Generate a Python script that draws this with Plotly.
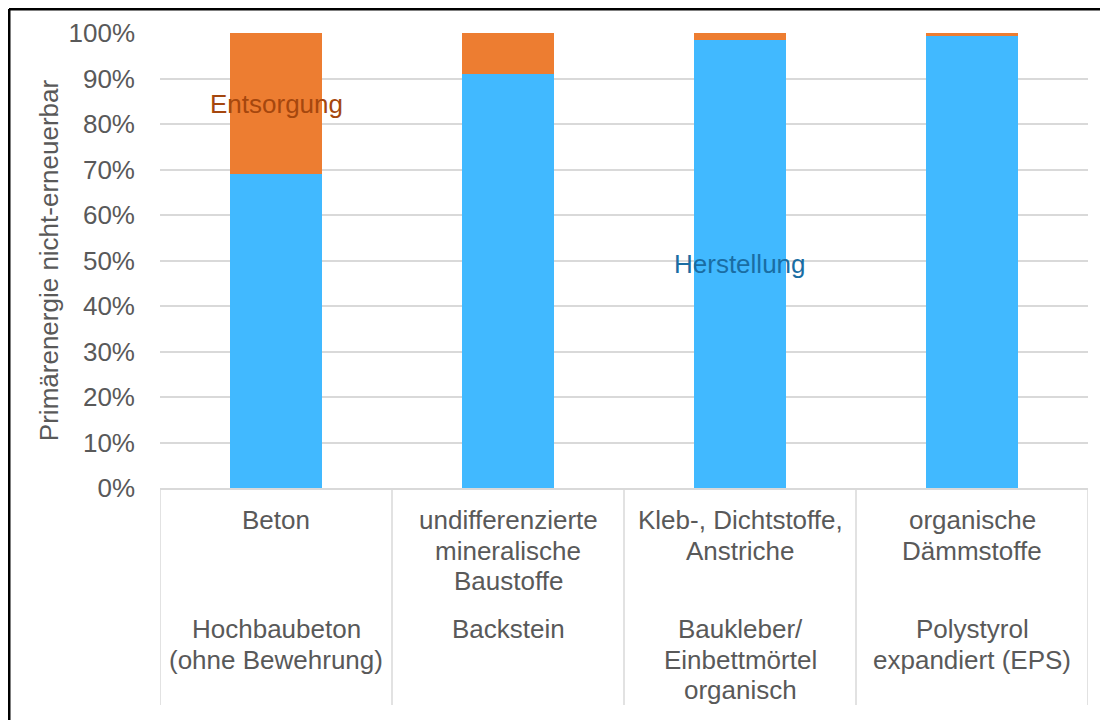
import plotly.graph_objects as go

# =========================
# DATA
# =========================

keys = ["beton", "backstein", "baukleber", "eps"]
herstellung = [0.69, 0.91, 0.985, 0.994]
entsorgung = [0.31, 0.09, 0.015, 0.006]

group_labels = [
    ["Beton"],
    ["undifferenzierte", "mineralische", "Baustoffe"],
    ["Kleb-, Dichtstoffe,", "Anstriche"],
    ["organische", "Dämmstoffe"],
]
product_labels = [
    ["Hochbaubeton", "(ohne Bewehrung)"],
    ["Backstein"],
    ["Baukleber/", "Einbettmörtel", "organisch"],
    ["Polystyrol", "expandiert (EPS)"],
]

y_ticks = [i / 10 for i in range(11)]

BLUE = "#41B9FF"
ORANGE = "#ED7D31"
GREY_TEXT = "#595959"
GRID = "#D9D9D9"
FONT = "Liberation Sans, Arial, sans-serif"

# page is drawn with an 8px body margin, so margins are shifted by that
ML, MR, MT, MB = 152, 28, 25, 240
PW = 1108 - ML - MR
PH = 720 - MT - MB

# =========================
# FIGURE
# =========================

fig = go.Figure()

fig.add_trace(go.Bar(x=keys, y=herstellung, name="Herstellung",
                     marker=dict(color=BLUE, line=dict(width=0)), hoverinfo="skip"))
fig.add_trace(go.Bar(x=keys, y=entsorgung, name="Entsorgung",
                     marker=dict(color=ORANGE, line=dict(width=0)), hoverinfo="skip"))

# data labels (centre of segment)
fig.add_annotation(x=keys[0], y=herstellung[0] + entsorgung[0] / 2, text="Entsorgung",
                   showarrow=False, font=dict(size=26, color="#A5470E", family=FONT))
fig.add_annotation(x=keys[2], y=herstellung[2] / 2, text="Herstellung",
                   showarrow=False, font=dict(size=26, color="#1A6DA3", family=FONT))

# =========================
# CATEGORY LABELS (two rows)
# =========================

line_step = 30.5
for key, lines in zip(keys, group_labels):
    for i, line in enumerate(lines):
        fig.add_annotation(x=key, y=0, yref="paper", text=line, showarrow=False,
                           yanchor="middle", yshift=-(32 + line_step * i),
                           font=dict(size=26, color=GREY_TEXT, family=FONT))
for key, lines in zip(keys, product_labels):
    for i, line in enumerate(lines):
        fig.add_annotation(x=key, y=0, yref="paper", text=line, showarrow=False,
                           yanchor="middle", yshift=-(141 + line_step * i),
                           font=dict(size=26, color=GREY_TEXT, family=FONT))

# separators between categories
for i in range(len(keys) + 1):
    fig.add_shape(type="line", xref="x", yref="paper",
                  x0=i - 0.5, x1=i - 0.5, y0=0, y1=-217 / PH,
                  line=dict(color=GRID, width=1.5))

# outer frame (left + top edge)
fx = (1 - ML) / PW
fy = 1 + (MT - 1) / PH
fig.add_shape(type="line", xref="paper", yref="paper",
              x0=fx, x1=fx, y0=-1, y1=fy,
              line=dict(color="black", width=3))
fig.add_shape(type="line", xref="paper", yref="paper",
              x0=fx, x1=1.5, y0=fy, y1=fy,
              line=dict(color="black", width=3))

# =========================
# AXES
# =========================

fig.update_xaxes(
    type="category",
    range=[-0.5, len(keys) - 0.5],
    showticklabels=False,
    showgrid=False,
    showline=True,
    linecolor=GRID,
    linewidth=1.5,
    ticks="",
)

fig.update_yaxes(
    range=[0, 1],
    tickvals=y_ticks,
    tickformat=".0%",
    showgrid=True,
    gridcolor=GRID,
    gridwidth=1.5,
    zeroline=False,
    ticks="",
    ticklabelstandoff=24,
    tickfont=dict(size=26, color=GREY_TEXT, family=FONT),
    title=dict(text="Primärenergie nicht-erneuerbar", standoff=2,
               font=dict(size=26, color=GREY_TEXT, family=FONT)),
)

# =========================
# LAYOUT
# =========================

fig.update_layout(
    barmode="stack",
    bargap=0.6,
    showlegend=False,
    width=1108,
    height=720,
    plot_bgcolor="white",
    paper_bgcolor="white",
    font=dict(family=FONT, color=GREY_TEXT),
    margin=dict(l=ML, r=MR, t=MT, b=MB, autoexpand=False),
)

fig.write_html("out.html")
